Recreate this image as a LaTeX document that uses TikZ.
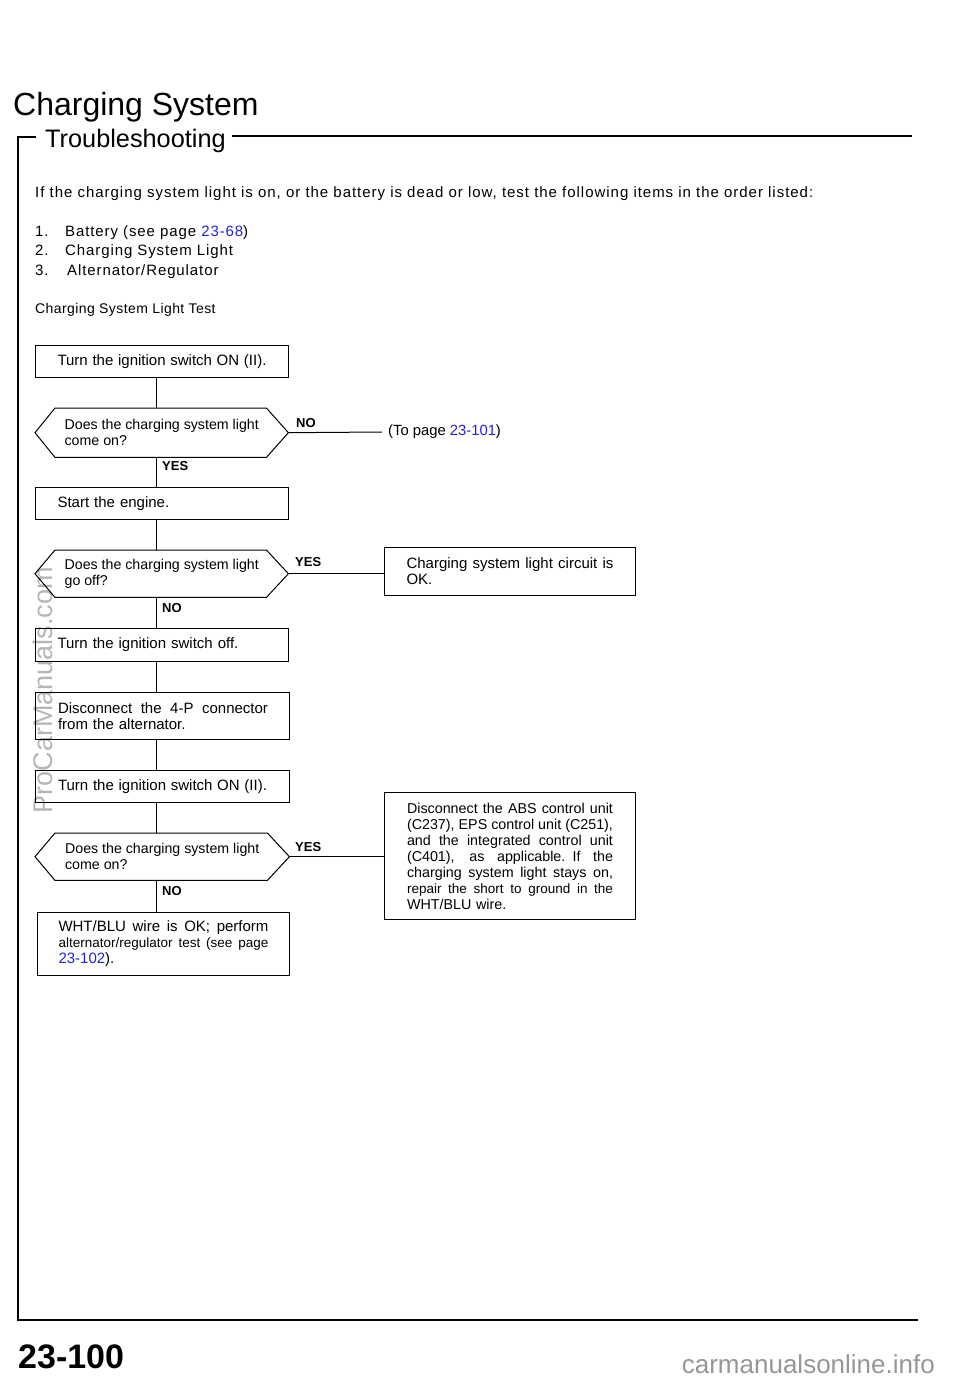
\documentclass[tikz,border=0pt]{standalone}
\usepackage{fontspec}
\setmainfont{Liberation Sans}
\newfontfamily\trk[LetterSpace=6]{Liberation Sans}
\newfontfamily\trki[LetterSpace=6.5]{Liberation Sans}
\newfontfamily\trks[LetterSpace=3]{Liberation Sans}
\usetikzlibrary{calc}
\definecolor{lnk}{RGB}{34,34,221}
\definecolor{wm}{RGB}{150,150,150}
\newcommand\fsz{\fontsize{14.2}{16}\selectfont}
\newcommand\bsz{\fontsize{15}{16}\selectfont}
\newcommand\tsz{\trk\fontsize{15}{19.5}\selectfont}
\newcommand\lk[1]{\textcolor{lnk}{#1}}
\newcommand\fl[2]{\leavevmode{\spaceskip=0.28em plus 1fil\relax\hbox to #1pt{#2}}}
\begin{document}
\begin{tikzpicture}[x=1pt,y=-1pt,
  ln/.style={line width=1pt},
  frame/.style={line width=2pt},
  box/.style={draw, line width=1pt, minimum width=253pt, text width=209pt,
    inner xsep=22pt, inner ysep=0pt, align=left, font=\bsz, anchor=north west},
  hexa/.style={minimum width=253pt, inner xsep=25pt,
    inner ysep=0pt, minimum height=49pt, align=left, font=\fsz, anchor=north west},
  lab/.style={font=\bfseries\fontsize{13}{13}\selectfont, inner sep=0pt, anchor=west}
]
\useasboundingbox (0,0) rectangle (960,1383);
% watermark
\node[rotate=90, text=wm, opacity=0.7, font=\fontsize{27}{27}\selectfont, inner sep=0pt] (wm1) at (43,690) {ProCarManuals.com};
% titles
\node[anchor=base west, inner sep=0pt, font=\fontsize{32}{32}\selectfont] (title) at (13,116) {Charging System};
\node[anchor=base west, inner sep=0pt, font=\fontsize{25.3}{25}\selectfont] (sub) at (45,148) {Troubleshooting};
% frame
\draw[frame] (36,137) -- (18,137) -- (18,1320) -- (918,1320);
\draw[frame] (232,136) -- (912,136);
% intro
\node[anchor=base west, inner sep=0pt, font=\trki\fontsize{15}{19.5}\selectfont] (intro) at (35,197) {If the charging system light is on, or the battery is dead or low, test the following items in the order listed:};
\node[anchor=base west, inner sep=0pt, font=\tsz] (n1) at (35,236) {1.};
\node[anchor=base west, inner sep=0pt, font=\tsz] (i1) at (65,236) {Battery (see page \lk{23-68})};
\node[anchor=base west, inner sep=0pt, font=\tsz] (n2) at (35,255) {2.};
\node[anchor=base west, inner sep=0pt, font=\tsz] (i2) at (65,255) {Charging System Light};
\node[anchor=base west, inner sep=0pt, font=\tsz] (n3) at (35,275) {3.};
\node[anchor=base west, inner sep=0pt, font=\tsz] (i3) at (67,275) {Alternator/Regulator};
\node[anchor=base west, inner sep=0pt, font=\trks\fontsize{14}{14}\selectfont] (sub2) at (35,313) {Charging System Light Test};
% flow
\coordinate (xl) at (156,0);
\node[box, minimum height=32pt] (b1) at (35,345) {\fl{209}{Turn the ignition switch ON (II).}};
\node[hexa] (d1) at (35,408) {Does the charging system light\\come on?};
\node[box, minimum height=32pt] (b2) at (35,487) {Start the engine.};
\node[hexa, minimum height=47pt] (d2) at (35,550) {Does the charging system light\\go off?};
\node[box, minimum height=33pt] (b3) at (35,628) {Turn the ignition switch off.};
\node[box, minimum height=47pt, minimum width=254pt] (b4) at (35,692) {\fl{210}{Disconnect the 4-P connector}\\from the alternator.};
\node[box, minimum height=32pt, minimum width=254pt] (b5) at (35,770) {\fl{209}{Turn the ignition switch ON (II).}};
\node[hexa, minimum height=47pt, minimum width=254pt] (d3) at (35,833) {Does the charging system light\\come on?};
\node[box, minimum height=63pt, minimum width=252pt, text width=210pt, inner xsep=21pt] (b6) at (37,912) {\fl{210}{WHT/BLU wire is OK; perform}\\{\fontsize{13.5}{16}\selectfont\fl{210}{alternator/regulator test (see page}}\\\lk{23-102}).};
\node[box, minimum height=48pt, minimum width=251pt, text width=207pt, inner xsep=22pt] (r1) at (384,547) {\fl{207}{Charging system light circuit is}\\OK.};
\node[box, minimum height=127pt, minimum width=251pt, text width=206pt, inner xsep=22.5pt, font=\fontsize{14.3}{16}\selectfont] (r2) at (384,792) {\fl{206}{Disconnect the ABS control unit}\\\fl{206}{(C237), EPS control unit (C251),}\\\fl{206}{and the integrated control unit}\\\fl{206}{(C401), as applicable. If the}\\\fl{206}{charging system light stays on,}\\{\fontsize{13.5}{16}\selectfont\fl{206}{repair the short to ground in the}}\\WHT/BLU wire.};
\node[anchor=west, inner xsep=6pt, inner ysep=0pt, font=\fontsize{14.8}{16}\selectfont] (tp) at (382,432) {(To page \lk{23-101})};
% hexagons
\foreach \d in {d1,d2,d3}{
  \draw[ln] (\d.west) -- ($(\d.north west)+(20,0)$) -- ($(\d.north east)+(-22,0)$) -- (\d.east)
    -- ($(\d.south east)+(-22,0)$) -- ($(\d.south west)+(20,0)$) -- cycle;
}
% connectors
\draw[ln] (b1.south -| xl) -- (d1.north -| xl);
\draw[ln] (d1.south -| xl) -- (b2.north -| xl);
\draw[ln] (b2.south -| xl) -- (d2.north -| xl);
\draw[ln] (d2.south -| xl) -- (b3.north -| xl);
\draw[ln] (b3.south -| xl) -- (b4.north -| xl);
\draw[ln] (b4.south -| xl) -- (b5.north -| xl);
\draw[ln] (b5.south -| xl) -- (d3.north -| xl);
\draw[ln] (d3.south -| xl) -- (b6.north -| xl);
\draw[ln] (d1.east) -- (tp.west);
\draw[ln] (d2.east) -- (d2.east -| r1.west);
\draw[ln] (d3.east) -- (d3.east -| r2.west);
% labels
\node[lab] (l1) at (296,423) {NO};
\node[lab] (l2) at (162,466) {YES};
\node[lab] (l3) at (295,562) {YES};
\node[lab] (l4) at (162,608) {NO};
\node[lab] (l5) at (295,847) {YES};
\node[lab] (l6) at (162,891) {NO};
% footer
\node[anchor=base west, inner sep=0pt, font=\bfseries\fontsize{34}{34}\selectfont] (pg) at (18,1368) {23-100};
\node[anchor=base east, inner sep=0pt, text=wm, font=\fontsize{26}{26}\selectfont] (wm2) at (935,1373) {carmanualsonline.info};
\end{tikzpicture}
\end{document}
